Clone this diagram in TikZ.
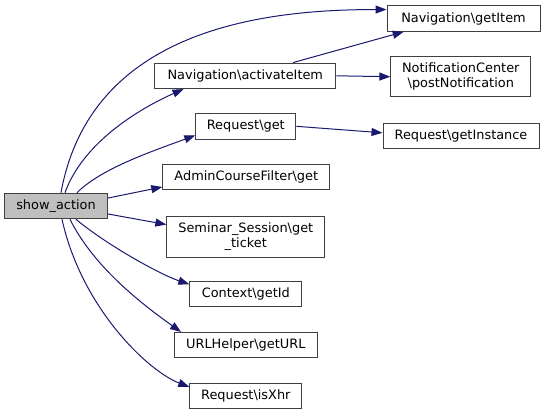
\documentclass[tikz,border=0pt]{standalone}
\usepackage{fontspec}
\setmainfont{DejaVu Sans}
\usetikzlibrary{arrows.meta, positioning}
\definecolor{edgeblue}{HTML}{191970}

\begin{document}
\begin{tikzpicture}[x=1bp, y=-1bp,
  fn/.style={draw=black!75, line width=1bp, fill=white, inner sep=0pt,
    minimum height=25.5bp, align=center, font=\fontsize{12.9bp}{15bp}\selectfont},
  root/.style={fn, fill=black!25},
  call/.style={draw=edgeblue, line width=1bp, -{Triangle[length=11bp, width=8bp]}}]
  \useasboundingbox (0,0) rectangle (544,415);

  % Aufrufer
  \node[root, minimum width=103bp] (show) at (56,206) {show\_action};

  % aufgerufene Funktionen
  \node[fn, minimum width=153bp] (getitem) at (463.5,18.5) {Navigation\textbackslash getItem};
  \node[fn, minimum width=181bp] (activate) at (245.3,75.8) {Navigation\textbackslash activateItem};
  \node[fn, minimum width=140bp, minimum height=40bp] (notify) at (460.8,76.7)
    {NotificationCenter\\\textbackslash postNotification};
  \node[fn, minimum width=100bp] (reqget) at (245.8,126.3) {Request\textbackslash get};
  \node[fn, minimum width=156bp] (instance) at (461,135.8) {Request\textbackslash getInstance};
  \node[fn, minimum width=167bp] (filter) at (246.3,177) {AdminCourseFilter\textbackslash get};
  \node[fn, minimum width=158bp, minimum height=41bp] (ticket) at (245.8,236.5)
    {Seminar\_Session\textbackslash get\\\_ticket};
  \node[fn, minimum width=112bp] (ctxid) at (245.8,294.2) {Context\textbackslash getId};
  \node[fn, minimum width=143bp] (geturl) at (245.8,345.2) {URLHelper\textbackslash getURL};
  \node[fn, minimum width=112bp] (isxhr) at (245.8,395.8) {Request\textbackslash isXhr};

  % Kanten
  \draw[call] ([xshift=5]show.north) .. controls +(30,-165) and +(-120,0) .. ([yshift=9]getitem.west);
  \draw[call] ([xshift=9]show.north) .. controls +(18,-50) and +(-45,20) .. ([xshift=-62]activate.south);
  \draw[call] ([xshift=21]show.north) .. controls +(25,-25) and +(-40,15) .. ([yshift=-9]reqget.west);
  \draw[call] ([yshift=8]show.east) -- ([yshift=-10]filter.west);
  \draw[call] ([yshift=-8]show.east) -- ([yshift=12]ticket.west);
  \draw[call] ([xshift=20]show.south) .. controls +(30,25) and +(-30,-10) .. ([yshift=10]ctxid.west);
  \draw[call] ([xshift=14]show.south) .. controls +(25,50) and +(-35,-25) .. ([xshift=-65]geturl.north);
  \draw[call] ([xshift=6]show.south) .. controls +(20,90) and +(-40,-15) .. ([yshift=9]isxhr.west);

  \draw[call] ([xshift=48]activate.north) -- ([xshift=-60]getitem.south);
  \draw[call] (activate.east) -- (notify.west);
  \draw[call] (reqget.east) -- ([yshift=3]instance.west);
\end{tikzpicture}
\end{document}
